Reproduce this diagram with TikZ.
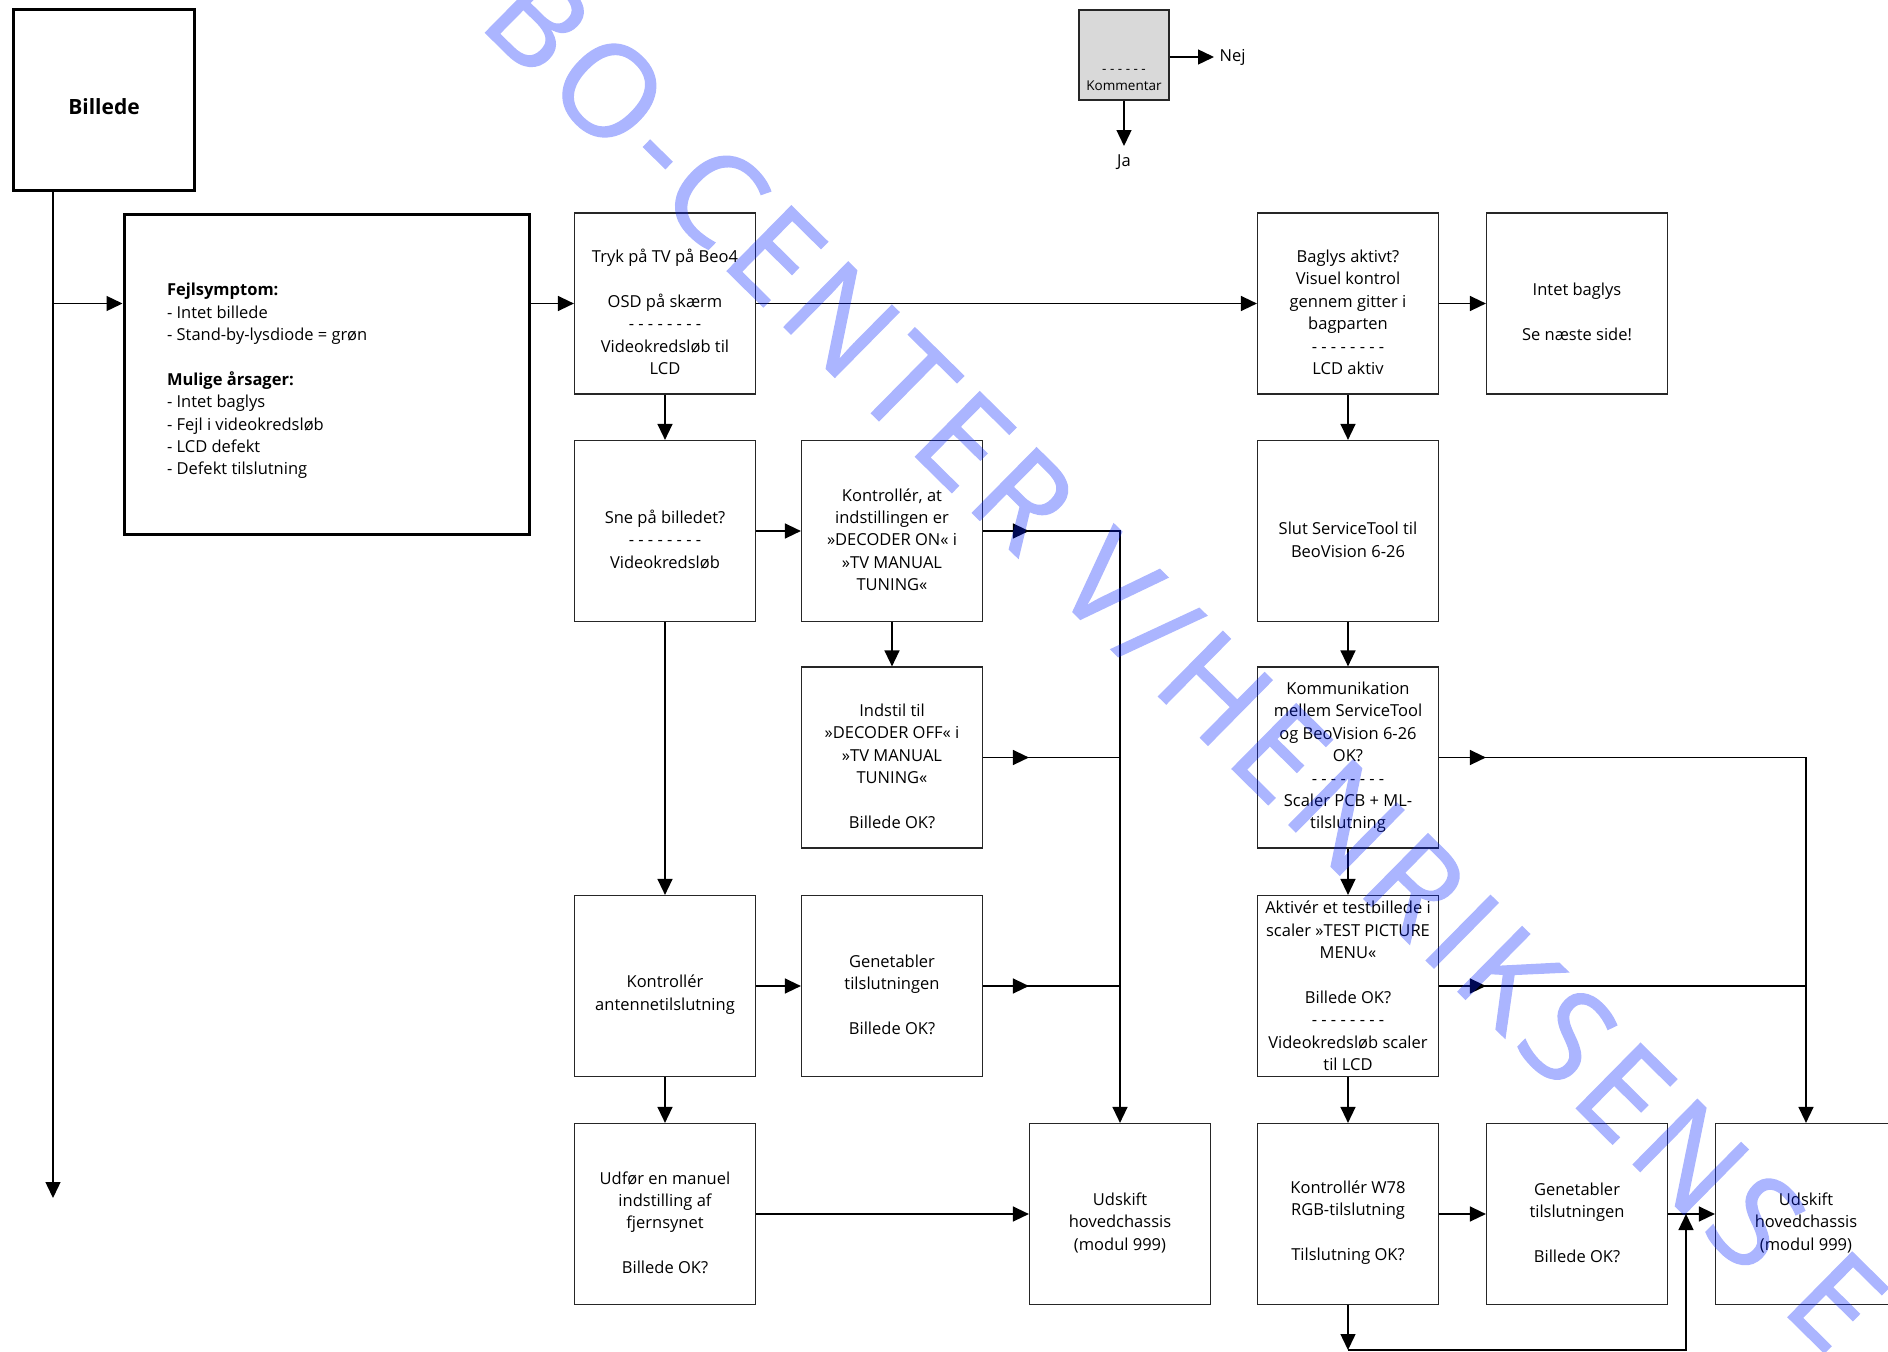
\documentclass[tikz,border=0pt]{standalone}
\usepackage{fontspec}
\setmainfont{Open Sans}
\newfontfamily\stempel[LetterSpace=6.8, FakeBold=1]{Open Sans}
\usetikzlibrary{arrows.meta}
\definecolor{stempelblaa}{RGB}{0,30,255}
\newcommand\streger{- - - - - - - -}
\newcommand\luft{\rule{0pt}{30pt}}

\begin{document}
\begin{tikzpicture}[x=1pt, y=-1pt,
    line width=1.4pt,
    >={Triangle[length=16pt,width=15pt]},
    box/.style = {
      draw = black!85,
      line width = 1.2pt,
      minimum width = 181pt,
      minimum height = 181pt,
      inner sep = 2pt,
      align = center,
      font = \fontsize{16.5}{22.4}\selectfont
    },
    boldbox/.style = {
      box,
      draw = black,
      line width = 3pt
    },
    txt/.style = {
      font = \fontsize{16.5}{22.4}\selectfont
    }
  ]
  \useasboundingbox (0,0) rectangle (1888,1352);

  \node[boldbox] (billede) at (104,100) {\luft\fontsize{21}{26}\selectfont\bfseries Billede};
  \node[boldbox, minimum width=405pt, minimum height=320pt] (fejl) at (326.5,374) {};
  \node[txt, anchor=west, align=left] (symptom) at (163,381)
    {\textbf{Fejlsymptom:}\\- Intet billede\\- Stand-by-lysdiode = grøn\\[\baselineskip]
     \textbf{Mulige årsager:}\\- Intet baglys\\- Fejl i videokredsløb\\- LCD defekt\\- Defekt tilslutning};

  \node[box, fill=black!15, minimum width=90pt, minimum height=90pt] (legende) at (1124,55) {};
  \node[anchor=south, align=center, inner xsep=0pt, inner ysep=9pt,
    font=\fontsize{13.5}{17}\selectfont] (legendetekst) at (legende.south) {- - - - - -\\Kommentar};
  \node[txt, anchor=west, inner sep=5pt] (nej) at (1214,57) {Nej};
  \node[txt, anchor=north, inner xsep=2pt, inner ysep=8pt] (ja) at (1124,146) {Ja};

  \node[box] (tryk) at (665,303.5) {\luft Tryk på TV på Beo4\\[\baselineskip]OSD på skærm\\\streger\\Videokredsløb til\\LCD};
  \node[box] (baglys) at (1348,303.5) {\luft Baglys aktivt?\\Visuel kontrol\\gennem gitter i\\bagparten\\\streger\\LCD aktiv};
  \node[box] (intet) at (1577,303.5) {\luft Intet baglys\\[\baselineskip]Se næste side!};

  \node[box] (sne) at (665,531) {\luft Sne på billedet?\\\streger\\Videokredsløb};
  \node[box] (decon) at (892,531) {\luft Kontrollér, at\\indstillingen er\\»DECODER ON« i\\»TV MANUAL\\TUNING«};
  \node[box] (slut) at (1348,531) {\luft Slut ServiceTool til\\BeoVision 6-26};

  \node[box] (decoff) at (892,757.5) {\luft Indstil til\\»DECODER OFF« i\\»TV MANUAL\\TUNING«\\[\baselineskip]Billede OK?};
  \node[box] (komm) at (1348,757.5) {Kommunikation\\mellem ServiceTool\\og BeoVision 6-26\\OK?\\\streger\\Scaler PCB + ML-\\tilslutning};

  \node[box] (antenne) at (665,986) {\luft Kontrollér\\antennetilslutning};
  \node[box] (genet) at (892,986) {\luft Genetabler\\tilslutningen\\[\baselineskip]Billede OK?};
  \node[box] (aktiv) at (1348,986) {Aktivér et testbillede i\\scaler »TEST PICTURE\\MENU«\\[\baselineskip]Billede OK?\\\streger\\Videokredsløb scaler\\til LCD};

  \node[box] (udfor) at (665,1214) {\luft Udfør en manuel\\indstilling af\\fjernsynet\\[\baselineskip]Billede OK?};
  \node[box] (udskift) at (1120,1214) {\luft Udskift\\hovedchassis\\(modul 999)};
  \node[box] (rgb) at (1348,1214) {\luft Kontrollér W78\\RGB-tilslutning\\[\baselineskip]Tilslutning OK?};
  \node[box] (genetrgb) at (1577,1214) {\luft Genetabler\\tilslutningen\\[\baselineskip]Billede OK?};
  \node[box] (udskiftrgb) at (1806,1214) {\luft Udskift\\hovedchassis\\(modul 999)};

  \coordinate (ende) at (53,1198);
  \coordinate (sloejfe) at (1686,1350);

  \draw[->] (legende.east |- nej) -- (nej.west);
  \draw[->] (legende.south) -- (ja.north);

  \draw[->] (billede.south -| ende) -- (ende);
  \draw[->] (ende |- tryk) -- (fejl.west |- tryk);
  \draw[->] (fejl.east |- tryk) -- (tryk.west);
  \draw[->] (tryk.east) -- (baglys.west);
  \draw[->] (baglys.east) -- (intet.west);

  \draw[->] (tryk.south) -- (sne.north);
  \draw[->] (sne.east) -- (decon.west);
  \draw[->] (decon.south) -- (decoff.north);
  \draw[->] (sne.south) -- (antenne.north);
  \draw[->] (antenne.east) -- (genet.west);
  \draw[->] (antenne.south) -- (udfor.north);
  \draw[->] (udfor.east) -- (udskift.west);

  \draw[->] (decon.east) -| (udskift.north);
  \draw (decoff.east) -- (udskift |- decoff);
  \draw (genet.east) -- (udskift |- genet);
  \draw[->] (decon.east) -- (udskift.west |- decon);
  \draw[->] (decoff.east) -- (udskift.west |- decoff);
  \draw[->] (genet.east) -- (udskift.west |- genet);

  \draw[->] (baglys.south) -- (slut.north);
  \draw[->] (slut.south) -- (komm.north);
  \draw[->] (komm.south) -- (aktiv.north);
  \draw[->] (aktiv.south) -- (rgb.north);
  \draw[->] (rgb.east) -- (genetrgb.west);
  \draw[->] (genetrgb.east) -- (udskiftrgb.west);

  \draw[->] (komm.east) -| (udskiftrgb.north);
  \draw (aktiv.east) -- (udskiftrgb |- aktiv);
  \draw[->] (komm.east) -- (intet.west |- komm);
  \draw[->] (aktiv.east) -- (intet.west |- aktiv);

  \draw[->] (rgb.south) -- (rgb.south |- sloejfe);
  \draw[->] (rgb.south |- sloejfe) -- (sloejfe) -- (sloejfe |- genetrgb.east);

  \begin{scope}[transparency group, opacity=0.33]
    \node[rotate=-44.6, anchor=west, inner sep=0pt, text=stempelblaa,
      font=\stempel\fontsize{128}{128}\selectfont, text height=91pt, text depth=0pt]
      (vandmaerke) at (508,-9) {BO-CENTER V/HENRIKSENS E};
  \end{scope}
\end{tikzpicture}
\end{document}
